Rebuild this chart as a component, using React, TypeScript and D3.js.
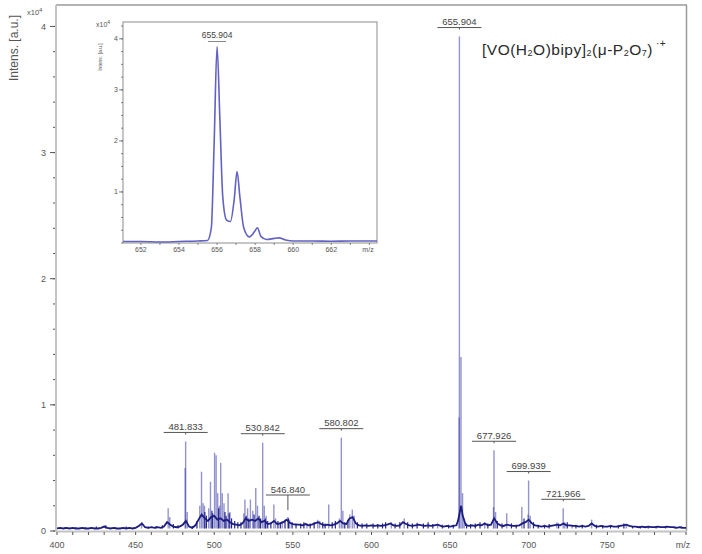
import React from 'react';
import * as d3 from 'd3';

// main spectrum: baseline (m/z, intensity x10^4)
const baseline: [number, number][] = [
  [400, .02], [402, .025], [404, .02], [406, .025], [408, .02], [410, .025], [412, .02], [414, .02],
  [416, .025], [418, .02], [420, .02], [422, .025], [424, .02], [426, .02], [428, .025], [430, .035],
  [432, .025], [434, .02], [436, .025], [438, .02], [440, .02], [442, .025], [444, .02], [446, .025],
  [448, .02], [450, .025], [452, .04], [454, .06], [456, .03], [458, .025], [460, .03], [462, .025],
  [464, .03], [466, .025], [468, .035], [470, .07], [472, .05], [474, .035], [476, .03], [478, .035],
  [480, .05], [482, .08], [484, .035], [486, .025], [488, .045], [490, .09], [492, .13], [494, .1],
  [496, .08], [498, .11], [500, .12], [502, .09], [504, .1], [506, .08], [508, .09], [510, .07],
  [512, .055], [514, .05], [516, .045], [518, .06], [520, .1], [522, .08], [524, .09], [526, .08],
  [528, .1], [530, .07], [532, .08], [534, .055], [536, .06], [538, .08], [540, .055], [542, .06],
  [544, .07], [546, .09], [548, .065], [550, .055], [552, .05], [554, .05], [556, .045], [558, .055],
  [560, .045], [562, .05], [564, .06], [566, .07], [568, .055], [570, .045], [572, .05], [574, .045],
  [576, .05], [578, .06], [580, .08], [582, .06], [584, .055], [586, .1], [588, .11], [590, .06],
  [592, .045], [594, .04], [596, .045], [598, .04], [600, .045], [602, .04], [604, .045], [606, .04],
  [608, .045], [610, .05], [612, .06], [614, .045], [616, .04], [618, .045], [620, .07], [622, .055],
  [624, .045], [626, .04], [628, .045], [630, .05], [632, .045], [634, .04], [636, .045], [638, .04],
  [640, .045], [642, .05], [644, .04], [646, .035], [648, .04], [650, .035], [652, .04], [654, .045],
  [655, .08], [657, .2], [658, .12], [660, .045], [662, .04], [664, .045], [666, .04], [668, .05],
  [670, .045], [672, .06], [674, .045], [676, .05], [678, .1], [680, .06], [682, .045], [684, .04],
  [686, .05], [688, .045], [690, .04], [692, .04], [694, .045], [696, .06], [698, .07], [700, .09],
  [702, .06], [704, .045], [706, .04], [708, .035], [710, .04], [712, .035], [714, .04], [716, .045],
  [718, .05], [720, .045], [722, .06], [724, .045], [726, .045], [728, .04], [730, .04], [732, .035],
  [734, .04], [736, .035], [738, .04], [740, .06], [742, .04], [744, .035], [746, .04], [748, .035],
  [750, .035], [752, .04], [754, .035], [756, .035], [758, .04], [760, .045], [762, .05], [764, .04],
  [766, .035], [768, .035], [770, .03], [772, .035], [774, .03], [776, .035], [778, .03], [780, .03],
  [782, .035], [784, .03], [786, .03], [788, .035], [790, .03], [792, .03], [794, .025], [796, .03],
  [798, .025], [800, .025],
];

// small noise spikes on the baseline
const noise: [number, number][] = [
  [405, .03], [412, .03], [418, .03], [425, .035], [431, .045], [437, .03], [444, .035], [449, .03],
  [458, .035], [463, .04], [467, .045], [474, .055], [477, .045], [486, .04], [489, .08],
  [494, .15], [495, .12], [498.5, .16], [499, .14], [502.8, .18], [506.8, .15], [507.5, .12],
  [509.5, .14], [511, .1], [513, .08], [515, .07], [517, .07], [520.3, .12], [522, .1],
  [525.3, .13], [528.5, .12], [529.5, .1], [532.5, .1], [534, .08], [536, .07], [540.5, .08],
  [542, .07], [545, .09], [547.2, .1], [549.5, .07], [552, .06], [555, .06], [557, .07],
  [561, .06], [563.5, .07], [569, .07], [570.5, .06], [575, .07], [577, .08], [583, .07],
  [585, .09], [591, .07], [594, .06], [597, .06], [601, .06], [604, .055], [607, .06],
  [609, .07], [615, .06], [618, .07], [623, .07], [626, .06], [629, .065], [633, .06],
  [636, .07], [639, .055], [645, .05], [649, .05], [652, .05], [660.5, .06], [663, .055],
  [666, .06], [669, .07], [674, .06], [680, .08], [683, .06], [689, .06], [692, .05],
  [697, .1], [703, .07], [706, .05], [710, .05], [713, .055], [719, .06], [724.5, .07],
  [730, .05], [734, .05], [743, .05], [747, .045], [752, .045], [757, .045], [760.5, .06],
  [766, .04], [771, .04], [776, .04], [781, .035], [787, .04], [793, .035], [797, .035],
];

// main spectrum: peaks (m/z, intensity x10^4)
const peaks: [number, number][] = [
  [453.8, .07], [470.7, .18], [471.7, .11], [481.5, .5], [481.8, .71], [482.8, .15],
  [490.8, .2], [491.9, .47], [492.9, .22], [493.8, .2], [496.5, .18], [497.6, .39],
  [500.2, .62], [501.2, .6], [502.2, .3], [503.3, .2], [504.1, .54], [505.1, .3],
  [506.2, .22], [508.8, .3], [510, .15], [518.8, .14], [519.5, .25], [521.2, .18],
  [523, .25], [524.5, .16], [526.4, .34], [527.5, .2], [530.8, .7], [531.8, .2],
  [533, .12], [537.9, .21], [539, .1], [543.2, .08], [546.8, .11], [548, .09],
  [559, .06], [565.8, .09], [567, .08], [572.8, .21], [579.6, .1], [580.8, .74],
  [581.8, .16], [586.2, .13], [587.8, .17], [589, .12], [612.6, .07], [620.8, .1],
  [642, .06], [655.7, .9], [655.9, 3.92], [656.9, 1.38], [657.9, .3], [658.9, .1],
  [672, .07], [677.6, .19], [677.9, .64], [678.9, .15], [686, .14], [695.6, .19],
  [699.6, .13], [699.9, .4], [700.9, .12], [717.9, .07], [721.9, .18], [722.9, .07],
  [727.6, .05], [740, .09], [762, .05],
];

// annotated peaks
const labelMz = [481.833, 530.842, 546.840, 580.802, 655.904, 677.926, 699.939, 721.966];
const labelPeak = [.71, .70, .11, .74, 3.92, .64, .40, .18];
const labelAt = [.71, .70, .214, .74, 3.92, .64, .40, .18];

// inset: isotope profile around 655.9
const insetProfile: [number, number][] = [
  [651.06, .03], [652, .03], [653, .02], [654, .03], [655, .04], [655.5, .05], [655.7, .3],
  [655.85, 2.0], [656.0, 3.85], [656.15, 2.4], [656.3, .9], [656.5, .45], [656.7, .42],
  [656.9, .85], [657.05, 1.4], [657.2, .9], [657.4, .3], [657.7, .12], [658.0, .24],
  [658.12, .3], [658.3, .13], [658.6, .07], [659.0, .09], [659.25, .1], [659.6, .06],
  [660, .04], [661, .04], [662, .035], [663, .04], [664.4, .04],
];
const insetXTicks = [652, 654, 656, 658, 660, 662];
const insetYTicks = [1, 2, 3, 4];

const mainXTicks = [400, 450, 500, 550, 600, 650, 700, 750];
const mainYTicks = [0, 1, 2, 3, 4];

const FONT = 'Liberation Sans, Arial, sans-serif';

const App = () => {
  const x = d3.scaleLinear().domain([400, 800]).range([57, 686]);
  const y = d3.scaleLinear().domain([0, 4.17]).range([531, 5]);

  const xi = d3.scaleLinear().domain([651.06, 664.4]).range([123, 377]);
  const yi = d3.scaleLinear().domain([0, 4.33]).range([243, 22]);

  const baseLine = d3.line<[number, number]>().x(d => x(d[0])).y(d => y(d[1]));
  const insetLine = d3.line<[number, number]>()
    .x(d => xi(d[0])).y(d => yi(d[1])).curve(d3.curveMonotoneX);

  const minorX = d3.range(400, 801, 10);
  const minorY = d3.range(0, 4.01, 0.2);
  const insetMinorX = d3.range(652, 664.1, 1);
  const insetMinorY = d3.range(0, 4.3, 0.25);

  return (
    <svg width={702} height={554} style={{ position: 'absolute', left: 0, top: 0, background: '#fff' }}
      fontFamily={FONT}>
      {/* frame */}
      <line x1={56} x2={687} y1={5} y2={5} stroke="#9a9a9a" strokeWidth={1.5} />
      <line x1={686.5} x2={686.5} y1={5} y2={531} stroke="#9a9a9a" strokeWidth={1.5} />

      {/* spectrum */}
      <g>
        {peaks.map((p, i) => (
          <line key={i} x1={x(p[0])} x2={x(p[0])} y1={y(0.02)} y2={y(p[1])}
            stroke="#3a3aa6" strokeOpacity={0.55} strokeWidth={1.4} />
        ))}
        {noise.map((p, i) => (
          <line key={i} x1={x(p[0])} x2={x(p[0])} y1={y(0.02)} y2={y(p[1])}
            stroke="#23238a" strokeWidth={1.2} />
        ))}
        <path d={baseLine(baseline) ?? ''} fill="none" stroke="#1c1c80" strokeWidth={1.8} />
      </g>

      {/* axes */}
      <line x1={56} x2={56} y1={5} y2={532} stroke="#c4c4c4" strokeWidth={2} />
      <line x1={56} x2={687} y1={531.5} y2={531.5} stroke="#c4c4c4" strokeWidth={2} />
      {minorY.map((v, i) => (
        <line key={i} x1={53} x2={55} y1={y(v)} y2={y(v)} stroke="#555" strokeWidth={1} />
      ))}
      {mainYTicks.map(v => (
        <g key={v}>
          <line x1={50} x2={55} y1={y(v)} y2={y(v)} stroke="#555" strokeWidth={1} />
          <text x={46} y={y(v)} dy="0.35em" textAnchor="end" fontSize={9} fill="#555">{v}</text>
        </g>
      ))}
      {minorX.map((v, i) => (
        <line key={i} x1={x(v)} x2={x(v)} y1={532} y2={535} stroke="#555" strokeWidth={1} />
      ))}
      {mainXTicks.map(v => (
        <text key={v} x={x(v)} y={548} textAnchor="middle" fontSize={9} fill="#555">{v}</text>
      ))}
      <text x={683} y={548} textAnchor="middle" fontSize={9} fill="#555">m/z</text>
      <text x={27} y={15} fontSize={7.5} fill="#555">x10<tspan dy={-3} fontSize={6}>4</tspan></text>
      <text transform="translate(18,48) rotate(-90)" textAnchor="middle" fontSize={12} fill="#555">
        Intens. [a.u.]
      </text>

      {/* peak labels */}
      {labelMz.map((m, i) => {
        const cx = x(m);
        const uy = y(labelAt[i]) - 9;
        return (
          <g key={m}>
            <text x={cx} y={uy - 2.5} textAnchor="middle" fontSize={9.5} fill="#444">{m.toFixed(3)}</text>
            <line x1={cx - 22} x2={cx + 22} y1={uy} y2={uy} stroke="#555" strokeWidth={1} />
            <line x1={cx} x2={cx} y1={uy} y2={y(labelPeak[i]) - 7} stroke="#555" strokeWidth={1} />
          </g>
        );
      })}

      {/* formula */}
      <text x={482} y={55} fontSize={15.5} letterSpacing={0.5} fill="#2a2a2a">
        [VO(H<tspan fontSize={9} dy={1}>2</tspan><tspan dy={-1}>O)bipy]</tspan>
        <tspan fontSize={9} dy={1}>2</tspan><tspan dy={-1}>(μ-P</tspan>
        <tspan fontSize={9} dy={1}>2</tspan><tspan dy={-1}>O</tspan>
        <tspan fontSize={9} dy={1}>7</tspan><tspan dy={-1}>)</tspan>
        <tspan fontSize={10} dx={3} dy={-8}>·+</tspan>
      </text>

      {/* inset */}
      <g>
        <rect x={123} y={22} width={254} height={221} fill="#fff" stroke="#a0a0a0" strokeWidth={1.2} />
        <path d={insetLine(insetProfile) ?? ''} fill="none" stroke="#6262c2" strokeWidth={1.6} />
        {insetMinorY.map((v, i) => (
          <line key={i} x1={121} x2={123} y1={yi(v)} y2={yi(v)} stroke="#666" strokeWidth={0.8} />
        ))}
        {insetYTicks.map(v => (
          <g key={v}>
            <line x1={119} x2={123} y1={yi(v)} y2={yi(v)} stroke="#666" strokeWidth={0.8} />
            <text x={118} y={yi(v)} dy="0.35em" textAnchor="end" fontSize={7} fill="#555">{v}</text>
          </g>
        ))}
        {insetMinorX.map((v, i) => (
          <line key={i} x1={xi(v)} x2={xi(v)} y1={243} y2={245} stroke="#666" strokeWidth={0.8} />
        ))}
        {insetXTicks.map(v => (
          <text key={v} x={xi(v)} y={252} textAnchor="middle" fontSize={7} fill="#555">{v}</text>
        ))}
        <text x={368} y={252} textAnchor="middle" fontSize={7} fill="#555">m/z</text>
        <text x={96} y={27} fontSize={7} fill="#555">x10<tspan dy={-3} fontSize={5}>4</tspan></text>
        <text transform="translate(102,57) rotate(-90)" textAnchor="middle" fontSize={5} fill="#555">
          Intens. [a.u.]
        </text>
        <text x={xi(656.0)} y={38} textAnchor="middle" fontSize={8.5} fill="#444">655.904</text>
        <line x1={xi(656.0) - 9} x2={xi(656.0) + 9} y1={41.5} y2={41.5} stroke="#888" strokeWidth={1} />
      </g>
    </svg>
  );
};

export default App;
